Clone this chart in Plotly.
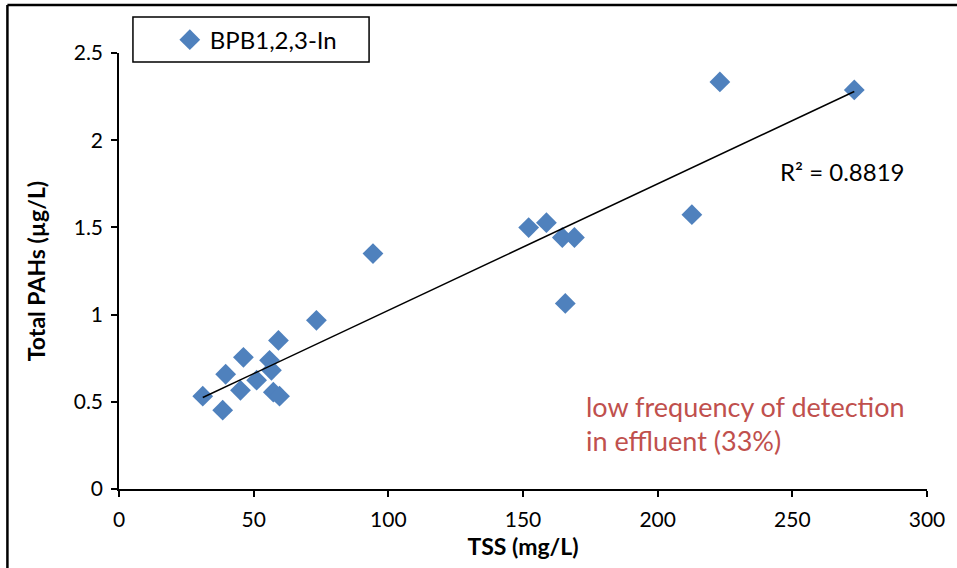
import numpy as np
import plotly.graph_objects as go

# TSS vs. total PAHs for the BPB1,2,3-In samples
tss = [31.1, 38.5, 39.6, 45.1, 46.2, 51.1, 55.9, 56.6, 57.3, 59.6, 59.2,
       73.3, 94.3, 152.1, 158.7, 164.6, 169.1, 165.7, 212.7, 223.1, 273.0]
pahs = [0.532, 0.452, 0.658, 0.566, 0.755, 0.624, 0.738, 0.681, 0.555, 0.532, 0.852,
        0.967, 1.350, 1.499, 1.527, 1.442, 1.442, 1.064, 1.573, 2.334, 2.288]
series_name = "BPB1,2,3-In"
r2_label = "R² = 0.8819"
note_lines = ["low frequency of detection", "in effluent (33%)"]
x_ticks = [0, 50, 100, 150, 200, 250, 300]
y_ticks = [0, 0.5, 1, 1.5, 2, 2.5]

W, H = 957, 568
ML, MR, MT, MB = 119, 27, 53, 78
PW, PH = W - ML - MR, H - MT - MB


def px_to_paper(px, py):
    return (px - ML) / PW, (H - MB - py) / PH


# least-squares trend line over the observed TSS span
slope, intercept = np.polyfit(tss, pahs, 1)
x_fit = np.array([min(tss), max(tss)])
y_fit = slope * x_fit + intercept

FONT = "Lato"
BLUE = "#4F81BD"

fig = go.Figure()
fig.add_trace(go.Scatter(
    x=tss, y=pahs, mode="markers", name=series_name,
    marker=dict(symbol="diamond", size=16, color=BLUE, line=dict(width=0)),
))
fig.add_trace(go.Scatter(
    x=x_fit, y=y_fit, mode="lines", showlegend=False,
    line=dict(color="black", width=1.5), hoverinfo="skip",
))

# outer frame (left and top edges) and legend box
fx0, fy0 = px_to_paper(7, 5)
fx1, fy1 = px_to_paper(W + 5, H + 5)
lx0, ly0 = px_to_paper(133, 17)
lx1, ly1 = px_to_paper(370, 62)
shapes = [
    dict(type="line", xref="paper", yref="paper", x0=fx0, x1=fx0, y0=fy0, y1=fy1,
         line=dict(color="black", width=2.5)),
    dict(type="line", xref="paper", yref="paper", x0=fx0, x1=fx1, y0=fy0, y1=fy0,
         line=dict(color="black", width=2.5)),
    dict(type="rect", xref="paper", yref="paper", x0=lx0, x1=lx1, y0=ly0, y1=ly1,
         line=dict(color="black", width=1.5), fillcolor="rgba(0,0,0,0)"),
]

legx, legy = px_to_paper(170, 40)
annotations = [
    dict(x=244.5, y=1.819, xref="x", yref="y", text=r2_label, showarrow=False,
         xanchor="left", yanchor="middle", font=dict(family=FONT, size=24, color="black")),
    dict(x=172.8, y=(H - MB - 407) / PH * 2.5, xref="x", yref="y", text=note_lines[0],
         showarrow=False, xanchor="left", yanchor="middle",
         font=dict(family=FONT, size=27, color="#C0504D")),
    dict(x=172.8, y=(H - MB - 441) / PH * 2.5, xref="x", yref="y", text=note_lines[1],
         showarrow=False, xanchor="left", yanchor="middle",
         font=dict(family=FONT, size=27, color="#C0504D")),
]

fig.update_layout(
    width=W, height=H,
    margin=dict(l=ML, r=MR, t=MT, b=MB, pad=0),
    paper_bgcolor="white", plot_bgcolor="white",
    font=dict(family=FONT, size=21, color="black"),
    showlegend=True,
    legend=dict(x=legx, y=legy, xanchor="left", yanchor="middle",
                bgcolor="rgba(0,0,0,0)", borderwidth=0,
                font=dict(family=FONT, size=24, color="black"),
                itemwidth=30),
    shapes=shapes,
    annotations=annotations,
    xaxis=dict(
        range=[0, 300], tickvals=x_ticks, ticktext=[str(v) for v in x_ticks],
        showgrid=False, zeroline=False, showline=True, linecolor="black", linewidth=1.5,
        ticks="outside", ticklen=6, tickwidth=1.5, tickcolor="black",
        tickfont=dict(family=FONT, size=21), ticklabelstandoff=5,
        title=dict(text="<b>TSS (mg/L)</b>", font=dict(family=FONT, size=23), standoff=9),
    ),
    yaxis=dict(
        range=[0, 2.5], tickvals=y_ticks, ticktext=["0", "0.5", "1", "1.5", "2", "2.5"],
        showgrid=False, zeroline=False, showline=True, linecolor="black", linewidth=1.5,
        ticks="outside", ticklen=6, tickwidth=1.5, tickcolor="black",
        tickfont=dict(family=FONT, size=21), ticklabelstandoff=4,
        title=dict(text="<b>Total PAHs (µg/L)</b>", font=dict(family=FONT, size=23), standoff=22),
    ),
)

fig.write_html("out.html")
